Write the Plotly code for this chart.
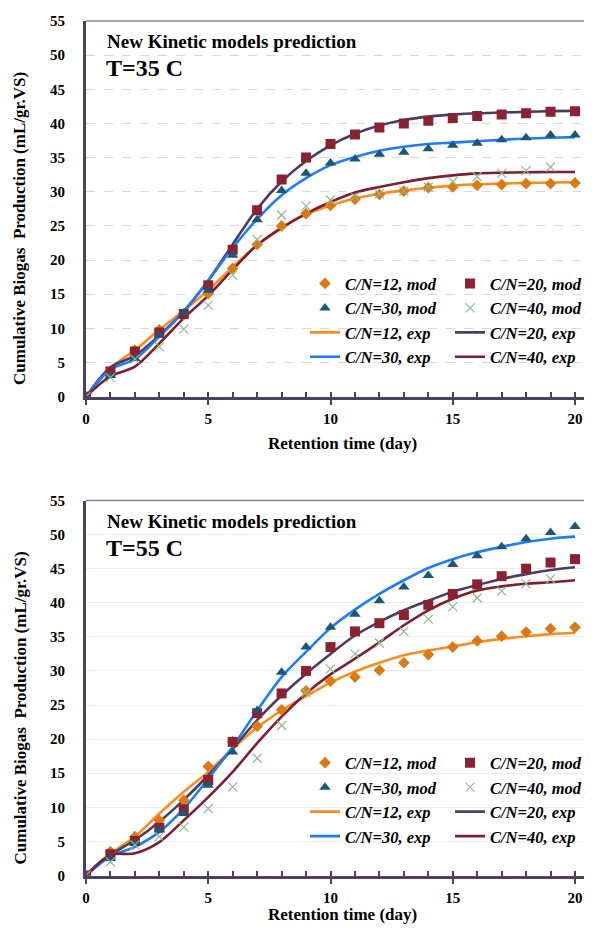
import plotly.graph_objects as go

# ---------------- data ----------------
days = list(range(21))
days_40 = list(range(20))

# T = 35 C
mod12_35 = [0, 3.5, 6.8, 9.8, 12.0, 15.1, 18.8, 22.3, 25.0, 26.8, 28.0, 28.9, 29.6, 30.1, 30.6, 30.7, 30.95, 31.05, 31.2, 31.2, 31.3]
mod20_35 = [0, 3.7, 6.6, 9.4, 12.1, 16.3, 21.5, 27.3, 31.8, 35.0, 37.0, 38.4, 39.4, 40.0, 40.4, 40.8, 41.1, 41.3, 41.5, 41.7, 41.8]
mod30_35 = [0, 3.1, 5.6, 9.0, 12.3, 15.6, 20.7, 25.9, 30.2, 32.7, 34.2, 34.8, 35.5, 35.8, 36.3, 36.8, 37.1, 37.6, 37.9, 38.3, 38.3]
mod40_35 = [0, 2.8, 5.5, 7.3, 9.9, 13.4, 17.8, 23.0, 26.6, 27.9, 28.8, 29.3, 29.7, 30.1, 30.7, 31.5, 32.2, 32.7, 33.1, 33.6]
exp12_35 = [0, 4.2, 6.8, 9.8, 12.6, 15.6, 19.0, 22.2, 24.8, 26.7, 28.0, 29.0, 29.7, 30.2, 30.6, 30.9, 31.1, 31.2, 31.3, 31.35, 31.4]
exp20_35 = [0, 4.3, 6.0, 9.0, 12.5, 17.0, 22.3, 27.5, 31.5, 34.5, 36.8, 38.5, 39.7, 40.5, 41.0, 41.3, 41.5, 41.6, 41.7, 41.8, 41.85]
exp30_35 = [0, 4.0, 5.5, 8.8, 12.5, 17.0, 21.8, 26.0, 29.5, 32.0, 33.9, 35.1, 36.0, 36.6, 37.0, 37.2, 37.4, 37.6, 37.8, 37.9, 38.0]
exp40_35 = [0, 3.0, 4.4, 7.8, 11.5, 14.8, 18.6, 22.2, 24.7, 26.8, 28.5, 29.9, 30.7, 31.4, 32.0, 32.4, 32.7, 32.8, 32.85, 32.9, 32.9]

# T = 55 C
mod12_55 = [0, 3.5, 5.7, 8.1, 11.05, 16.0, 19.6, 21.9, 24.3, 27.1, 28.5, 29.1, 30.1, 31.2, 32.4, 33.5, 34.4, 35.1, 35.7, 36.2, 36.4]
mod20_55 = [0, 3.1, 5.05, 7.0, 9.7, 14.0, 19.6, 23.8, 26.7, 30.0, 33.5, 35.8, 37.0, 38.2, 39.7, 41.3, 42.7, 43.9, 45.0, 45.9, 46.4]
mod30_55 = [0, 2.5, 4.7, 6.7, 9.1, 13.25, 18.1, 24.2, 29.8, 33.5, 36.4, 38.3, 40.3, 42.3, 44.0, 45.6, 46.9, 48.2, 49.4, 50.3, 51.2]
mod40_55 = [0, 2.0, 4.5, 5.7, 7.1, 9.8, 13.0, 17.2, 22.0, 26.8, 30.3, 32.5, 34.1, 35.8, 37.6, 39.4, 40.7, 41.7, 42.8, 43.5]
exp12_55 = [0, 3.2, 5.7, 9.1, 12.3, 15.2, 18.6, 21.7, 24.2, 26.3, 28.3, 29.9, 31.2, 32.3, 33.0, 33.6, 34.2, 34.7, 35.1, 35.4, 35.6]
exp20_55 = [0, 3.0, 5.2, 7.9, 11.1, 14.7, 18.6, 22.8, 26.4, 29.6, 32.5, 35.2, 37.2, 38.9, 40.3, 41.6, 42.6, 43.5, 44.2, 44.8, 45.2]
exp30_55 = [0, 2.8, 4.2, 6.4, 9.8, 14.2, 18.9, 24.2, 29.1, 32.8, 36.3, 39.0, 41.3, 43.3, 45.1, 46.4, 47.4, 48.2, 48.9, 49.4, 49.7]
exp40_55 = [0, 3.0, 3.25, 4.9, 8.1, 11.5, 15.2, 19.4, 23.3, 26.7, 29.5, 31.8, 34.2, 36.7, 38.9, 40.6, 41.8, 42.4, 42.8, 43.0, 43.3]

x_tickvals = [0, 5, 10, 15, 20]
x_ticktext = ["0", "5", "10", "15", "20"]
y_tickvals = list(range(0, 60, 5))

names = ["C/N=12, mod", "C/N=20, mod", "C/N=30, mod", "C/N=40, mod",
         "C/N=12, exp", "C/N=20, exp", "C/N=30, exp", "C/N=40, exp"]

title_main = "New Kinetic models prediction"
panel_titles = ["T=35 C", "T=55 C"]
x_title = "Retention time (day)"
y_title = "Cumulative Biogas\u00a0 Production (mL/gr.VS)"

# ---------------- style ----------------
PAGE_W, PAGE_H = 592, 932
BODY_MARGIN = 8  # default browser body margin
W, H = PAGE_W - 2 * BODY_MARGIN, PAGE_H - 2 * BODY_MARGIN
FONT = "Liberation Serif"
AX = "#4F3F62"
C_ORANGE_M = "#DB7A12"
C_SQ = "#8B2131"
C_TRI = "#1D5775"
C_X = "#8DBA8D"
C_ORANGE_L = "#FF8A1C"
C_PURPLE_L = "#4E3B64"
C_BLUE_L = "#1C7CFF"
C_RED_L = "#7E1F31"


def px_x(p):  # page pixel -> paper fraction
    return (p - BODY_MARGIN) / W


def px_y(p):
    return 1 - (p - BODY_MARGIN) / H


fig = go.Figure()

panels = [
    dict(xa="x", ya="y", leg=("legend", "legend2"),
         mods=[mod12_35, mod20_35, mod30_35, mod40_35],
         exps=[exp12_35, exp20_35, exp30_35, exp40_35]),
    dict(xa="x2", ya="y2", leg=("legend3", "legend4"),
         mods=[mod12_55, mod20_55, mod30_55, mod40_55],
         exps=[exp12_55, exp20_55, exp30_55, exp40_55]),
]

line_colors = [C_ORANGE_L, C_PURPLE_L, C_BLUE_L, C_RED_L]
marker_specs = [
    dict(symbol="diamond", size=9, color=C_ORANGE_M),
    dict(symbol="square", size=10, color=C_SQ),
    dict(symbol="triangle-up", size=10, color=C_TRI),
    dict(symbol="x-thin", size=9, color=C_X, line=dict(color=C_X, width=1.2)),
]
col_of = [0, 1, 0, 1, 0, 1, 0, 1]
rank_of = [1, 1, 2, 2, 3, 3, 4, 4]

for p in panels:
    for i, ys in enumerate(p["exps"]):
        k = 4 + i
        fig.add_trace(go.Scatter(
            x=days, y=ys, mode="lines", name=names[k],
            line=dict(color=line_colors[i], width=2.6, shape="spline", smoothing=0.9),
            xaxis=p["xa"], yaxis=p["ya"], legend=p["leg"][col_of[k]],
            legendrank=rank_of[k]))
    for i, ys in enumerate(p["mods"]):
        xs = days_40 if i == 3 else days
        fig.add_trace(go.Scatter(
            x=xs, y=ys, mode="markers", name=names[i],
            marker=marker_specs[i],
            xaxis=p["xa"], yaxis=p["ya"], legend=p["leg"][col_of[i]],
            legendrank=rank_of[i]))

X0_PX, X20_PX = 86, 575
x_max = (PAGE_W - BODY_MARGIN - X0_PX) / ((X20_PX - X0_PX) / 20)
x_dom = [px_x(X0_PX), 1.0]
y_dom_top = [px_y(396.7), px_y(21)]
y_dom_bot = [px_y(875.5), px_y(500.5)]


def xaxis_cfg(anchor):
    return dict(domain=x_dom, anchor=anchor, range=[0, x_max], tickvals=x_tickvals,
                ticktext=x_ticktext, showline=True, linecolor=AX, linewidth=3,
                ticks="outside", ticklen=5, tickwidth=2, tickcolor=AX,
                minor=dict(dtick=1, tick0=0, ticks="inside", ticklen=5, tickwidth=2, tickcolor=AX, showgrid=False),
                showgrid=False, zeroline=False, ticklabelstandoff=1,
                tickfont=dict(family=FONT, size=15, color="black", weight="bold"))


def yaxis_cfg(anchor, dom, grid_dash, grid_color):
    return dict(domain=dom, anchor=anchor, range=[0, 55], tickvals=y_tickvals,
                showline=True, linecolor=AX, linewidth=3, ticks="", zeroline=False,
                showgrid=True, gridcolor=grid_color, griddash=grid_dash, gridwidth=1,
                ticklabelstandoff=15,
                tickfont=dict(family=FONT, size=15, color="black", weight="bold"))


legend_font = dict(family=FONT, size=16.5, color="black", weight="bold", style="italic")


def legend_cfg(xp, yp):
    return dict(x=px_x(xp), y=px_y(yp), xanchor="left", yanchor="top",
                bgcolor="rgba(0,0,0,0)", borderwidth=0, font=legend_font,
                orientation="v", itemsizing="trace", traceorder="normal")


annotations = []
shapes = []
for idx, (yoff, ya, xa, xt_y) in enumerate([(0, "y", "x", 443), (479.5, "y2", "x2", 914.5)]):
    annotations.append(dict(text=title_main, xref="paper", yref="paper",
                            x=px_x(105), y=px_y(41.7 + yoff), xanchor="left", yanchor="middle",
                            showarrow=False, font=dict(family=FONT, size=19, color="black", weight="bold")))
    annotations.append(dict(text=panel_titles[idx], xref="paper", yref="paper",
                            x=px_x(104), y=px_y(68.3 + yoff), xanchor="left", yanchor="middle",
                            showarrow=False, font=dict(family=FONT, size=24, color="black", weight="bold")))
    annotations.append(dict(text=x_title, xref="paper", yref="paper",
                            x=px_x(342), y=px_y(xt_y), xanchor="center", yanchor="middle",
                            showarrow=False, font=dict(family=FONT, size=17, color="black", weight="bold")))
    annotations.append(dict(text=y_title, xref="paper", yref="paper", textangle=-90,
                            x=px_x(20), y=px_y(229 + yoff), xanchor="center", yanchor="middle",
                            showarrow=False, font=dict(family=FONT, size=17, color="black", weight="bold")))
    shapes.append(dict(type="line", xref=xa + " domain", yref=ya + " domain",
                       x0=0, x1=1, y0=1, y1=1, line=dict(color="#8C8098", width=1.3)))

fig.update_layout(
    width=W, height=H, margin=dict(l=0, r=0, t=0, b=0, autoexpand=False),
    paper_bgcolor="white", plot_bgcolor="white",
    showlegend=True, hovermode=False,
    xaxis=xaxis_cfg("y"), yaxis=yaxis_cfg("x", y_dom_top, "dash", "#D9D9D9"),
    xaxis2=xaxis_cfg("y2"), yaxis2=yaxis_cfg("x2", y_dom_bot, "solid", "#EDEDED"),
    legend=legend_cfg(305, 266.2), legend2=legend_cfg(450, 266.2),
    legend3=legend_cfg(305, 745.5), legend4=legend_cfg(450, 745.5),
    annotations=annotations, shapes=shapes,
)

fig.write_html("out.html", config={"displayModeBar": False})
